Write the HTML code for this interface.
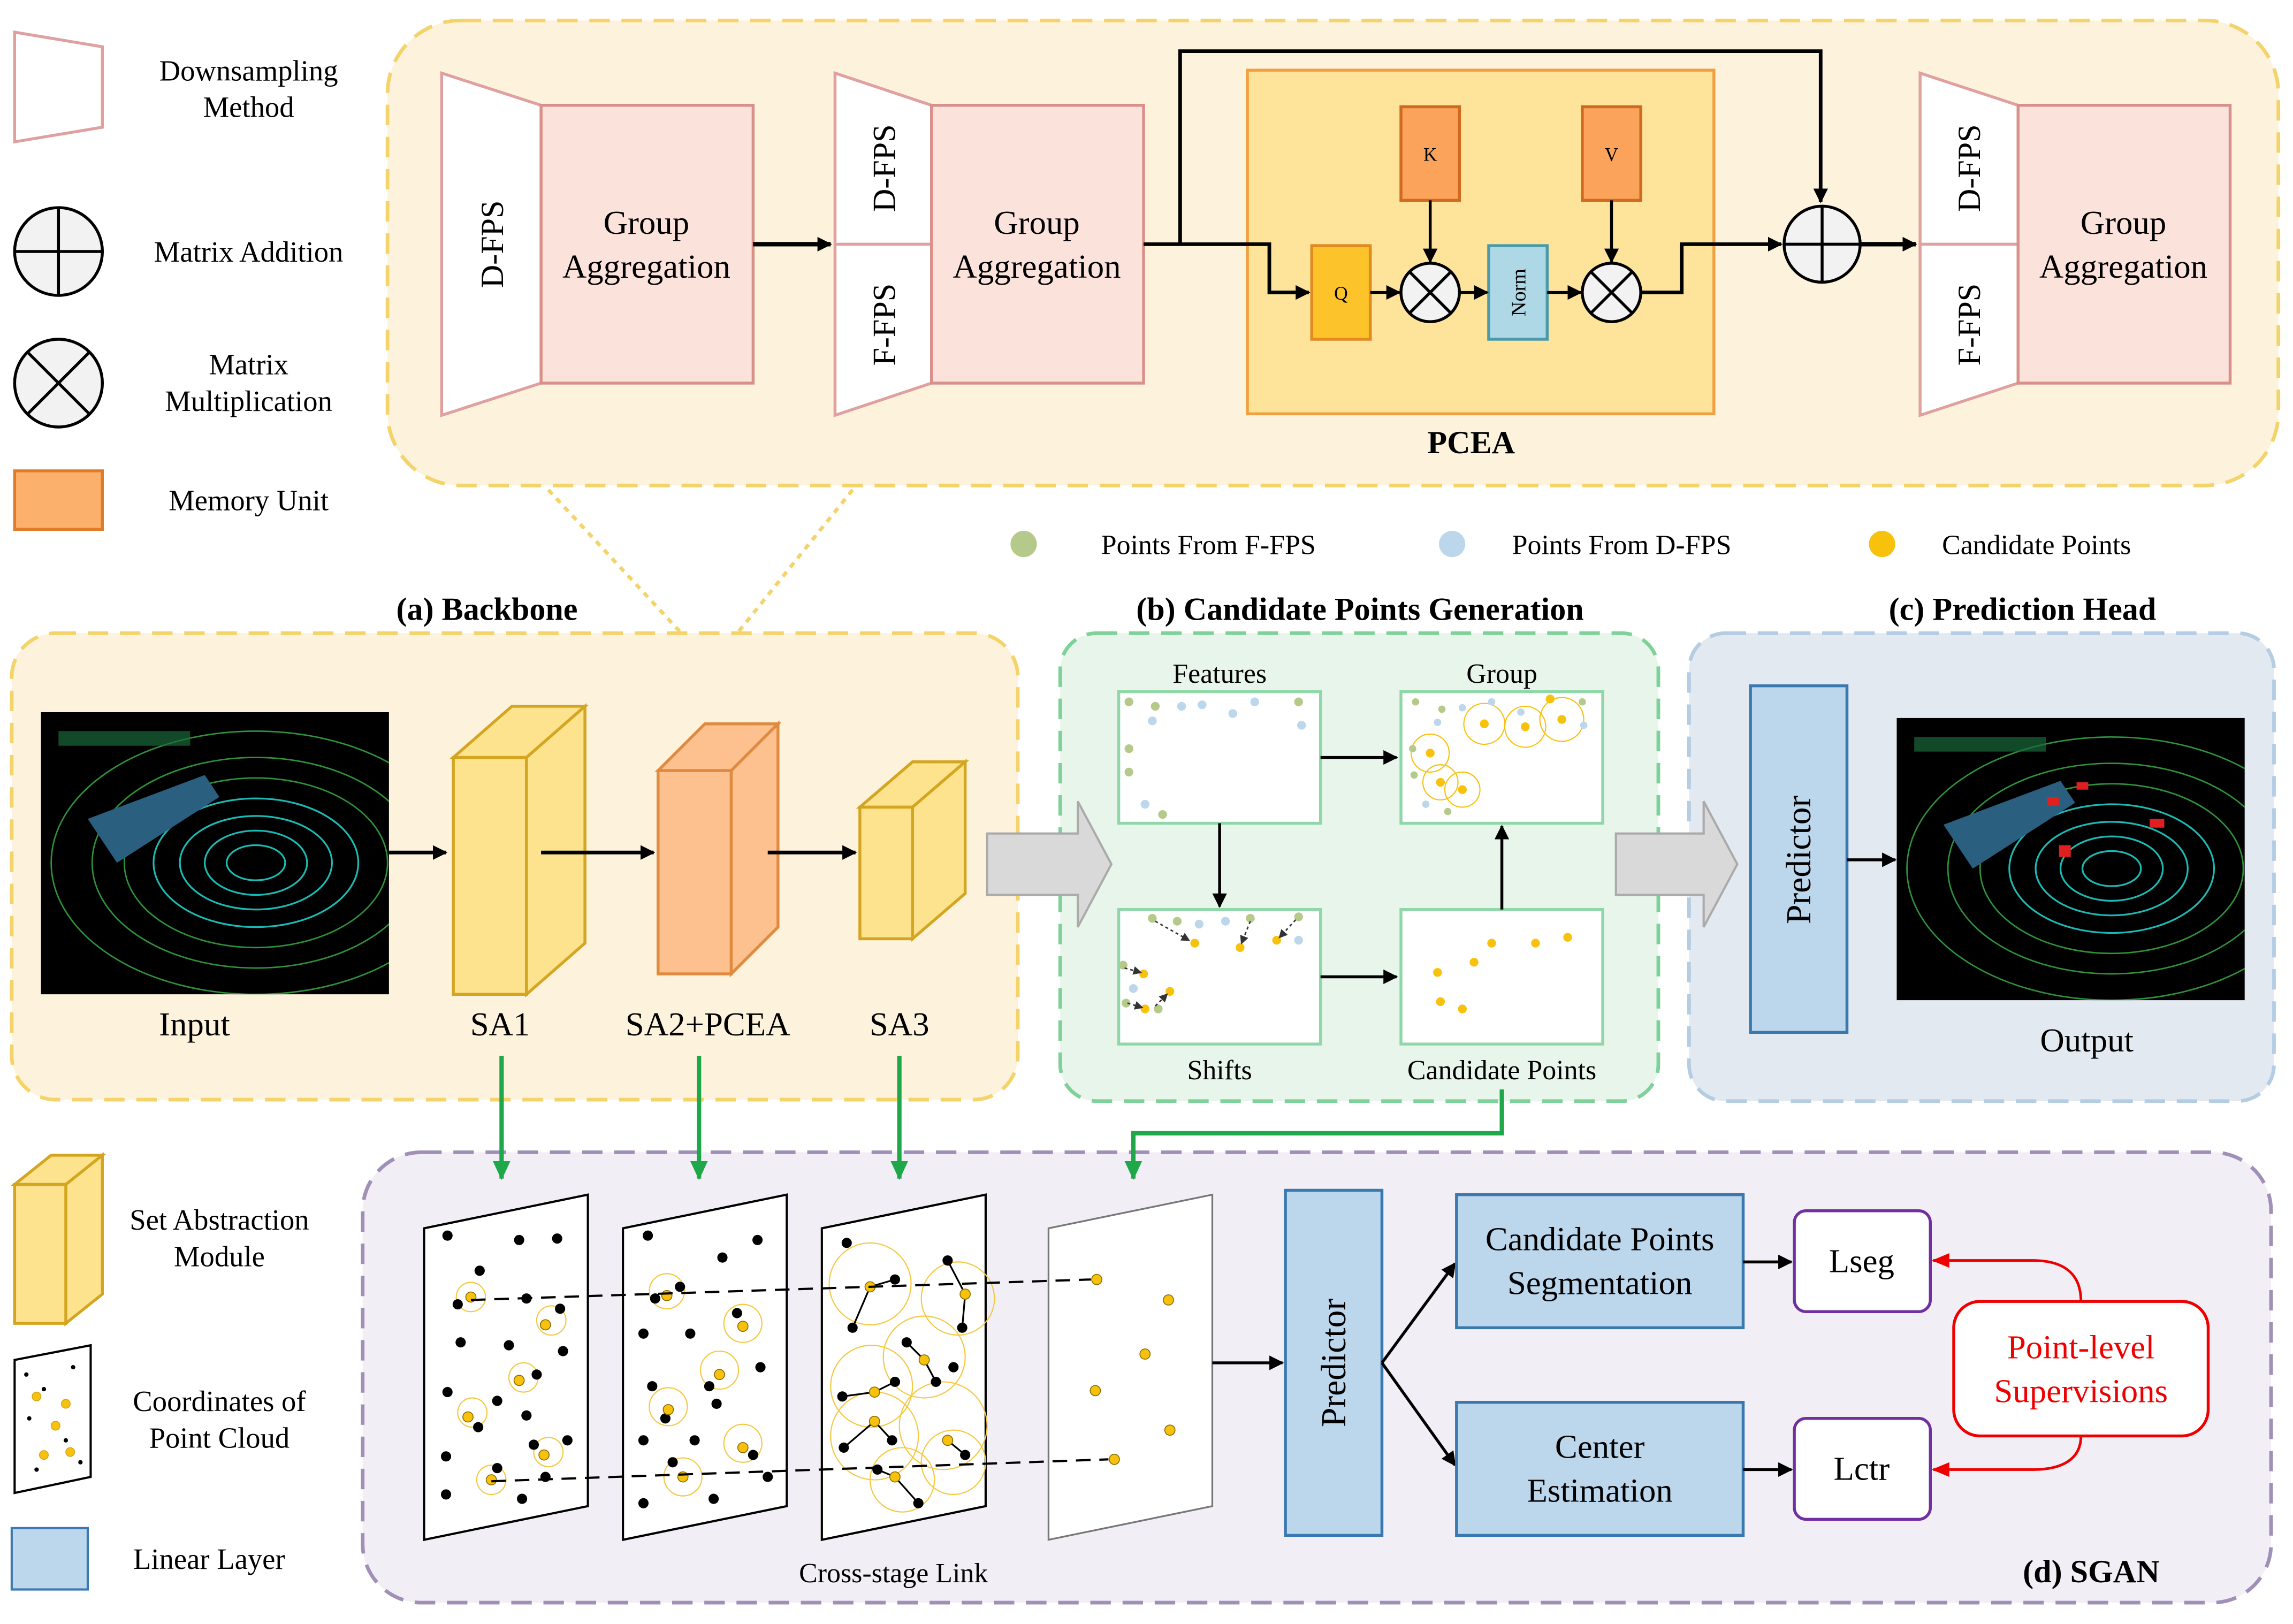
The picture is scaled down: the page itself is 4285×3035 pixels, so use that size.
<!DOCTYPE html>
<html><head><meta charset="utf-8"><style>
html,body{margin:0;padding:0;background:#fff;}
svg{display:block;}
text{font-family:"Liberation Serif",serif;fill:#000;}
</style></head><body>
<svg width="4285" height="3035" viewBox="0 0 1568 1110.6" preserveAspectRatio="none" xmlns="http://www.w3.org/2000/svg">
<defs>
<marker id="ah" markerWidth="10" markerHeight="10" refX="9" refY="5" orient="auto" markerUnits="userSpaceOnUse"><path d="M0,0 L10,5 L0,10 z" fill="#000"/></marker>
<marker id="ag" markerWidth="14" markerHeight="12" refX="12" refY="6" orient="auto" markerUnits="userSpaceOnUse"><path d="M0,0 L13,6 L0,12 z" fill="#1fa84a"/></marker>
<marker id="ar" markerWidth="12" markerHeight="10" refX="11" refY="5" orient="auto" markerUnits="userSpaceOnUse"><path d="M0,0 L12,5 L0,10 z" fill="#e00"/></marker>
<marker id="as" markerWidth="6" markerHeight="6" refX="5" refY="3" orient="auto" markerUnits="userSpaceOnUse"><path d="M0,0 L6,3 L0,6 z" fill="#333"/></marker>
<clipPath id="c1"><rect x="28" y="487" width="238" height="193"/></clipPath>
<clipPath id="c2"><rect x="1297" y="491" width="238" height="193"/></clipPath>
</defs>
<rect width="1568" height="1111" fill="#fff"/>

<!-- TOP PANEL -->
<rect x="265" y="14" width="1293" height="318" rx="50" fill="#fdf3dc" stroke="#f5d36b" stroke-width="2.5" stroke-dasharray="14,8"/>
<polygon points="10,22 70,32 70,87 10,97" fill="#fff" stroke="#e0a0a0" stroke-width="2"/>
<text x="170" y="55" font-size="20" text-anchor="middle">Downsampling</text>
<text x="170" y="80" font-size="20" text-anchor="middle">Method</text>
<circle cx="40" cy="172" r="30" fill="#f2f2f2" stroke="#000" stroke-width="2"/>
<line x1="10" y1="172" x2="70" y2="172" stroke="#000" stroke-width="2"/><line x1="40" y1="142" x2="40" y2="202" stroke="#000" stroke-width="2"/>
<text x="170" y="179" font-size="20" text-anchor="middle">Matrix Addition</text>
<circle cx="40" cy="262" r="30" fill="#f2f2f2" stroke="#000" stroke-width="2"/>
<line x1="19" y1="241" x2="61" y2="283" stroke="#000" stroke-width="2"/><line x1="61" y1="241" x2="19" y2="283" stroke="#000" stroke-width="2"/>
<text x="170" y="256" font-size="20" text-anchor="middle">Matrix</text>
<text x="170" y="281" font-size="20" text-anchor="middle">Multiplication</text>
<rect x="10" y="322" width="60" height="40" fill="#fbb06b" stroke="#e07b2a" stroke-width="2"/>
<text x="170" y="349" font-size="20" text-anchor="middle">Memory Unit</text>

<polygon points="302,50 370,72 370,262 302,284" fill="#fff" stroke="#e0a0a0" stroke-width="2"/>
<text transform="translate(344,167) rotate(-90)" font-size="22" text-anchor="middle">D-FPS</text>
<rect x="370" y="72" width="145" height="190" fill="#fbe3dc" stroke="#d9908a" stroke-width="2"/>
<text x="442" y="160" font-size="23" text-anchor="middle">Group</text>
<text x="442" y="190" font-size="23" text-anchor="middle">Aggregation</text>
<line x1="515" y1="167" x2="568" y2="167" stroke="#000" stroke-width="3" marker-end="url(#ah)"/>
<polygon points="571,50 637,72 637,262 571,284" fill="#fff" stroke="#e0a0a0" stroke-width="2"/>
<line x1="571" y1="167" x2="637" y2="167" stroke="#e0a0a0" stroke-width="2"/>
<text transform="translate(612,115) rotate(-90)" font-size="22" text-anchor="middle">D-FPS</text>
<text transform="translate(612,222) rotate(-90)" font-size="22" text-anchor="middle">F-FPS</text>
<rect x="637" y="72" width="145" height="190" fill="#fbe3dc" stroke="#d9908a" stroke-width="2"/>
<text x="709" y="160" font-size="23" text-anchor="middle">Group</text>
<text x="709" y="190" font-size="23" text-anchor="middle">Aggregation</text>
<rect x="853" y="48" width="319" height="235" fill="#fde49a" stroke="#f0a040" stroke-width="2"/>
<polyline points="782,167 868,167 868,200 895,200" fill="none" stroke="#000" stroke-width="2.5" marker-end="url(#ah)"/>
<polyline points="807,167 807,35 1245,35 1245,138" fill="none" stroke="#000" stroke-width="2.5" marker-end="url(#ah)"/>
<rect x="897" y="168" width="40" height="64" fill="#fcc42a" stroke="#e08a20" stroke-width="2"/>
<text x="917" y="205" font-size="13" text-anchor="middle">Q</text>
<rect x="958" y="73" width="40" height="64" fill="#fba35a" stroke="#d06a20" stroke-width="2"/>
<text x="978" y="110" font-size="13" text-anchor="middle">K</text>
<rect x="1082" y="73" width="40" height="64" fill="#fba35a" stroke="#d06a20" stroke-width="2"/>
<text x="1102" y="110" font-size="13" text-anchor="middle">V</text>
<rect x="1018" y="168" width="40" height="64" fill="#aed8e6" stroke="#4a9aaa" stroke-width="2"/>
<text transform="translate(1043,200) rotate(-90)" font-size="14" text-anchor="middle">Norm</text>
<circle cx="978" cy="200" r="20" fill="#f2f2f2" stroke="#000" stroke-width="2"/>
<line x1="964" y1="186" x2="992" y2="214" stroke="#000" stroke-width="2"/><line x1="992" y1="186" x2="964" y2="214" stroke="#000" stroke-width="2"/>
<circle cx="1102" cy="200" r="20" fill="#f2f2f2" stroke="#000" stroke-width="2"/>
<line x1="1088" y1="186" x2="1116" y2="214" stroke="#000" stroke-width="2"/><line x1="1116" y1="186" x2="1088" y2="214" stroke="#000" stroke-width="2"/>
<line x1="937" y1="200" x2="957" y2="200" stroke="#000" stroke-width="2" marker-end="url(#ah)"/>
<line x1="978" y1="137" x2="978" y2="179" stroke="#000" stroke-width="2" marker-end="url(#ah)"/>
<line x1="998" y1="200" x2="1017" y2="200" stroke="#000" stroke-width="2" marker-end="url(#ah)"/>
<line x1="1058" y1="200" x2="1081" y2="200" stroke="#000" stroke-width="2" marker-end="url(#ah)"/>
<line x1="1102" y1="137" x2="1102" y2="179" stroke="#000" stroke-width="2" marker-end="url(#ah)"/>
<polyline points="1122,200 1150,200 1150,167 1218,167" fill="none" stroke="#000" stroke-width="2.5" marker-end="url(#ah)"/>
<circle cx="1246" cy="167" r="26" fill="#f2f2f2" stroke="#000" stroke-width="2"/>
<line x1="1220" y1="167" x2="1272" y2="167" stroke="#000" stroke-width="2"/><line x1="1246" y1="141" x2="1246" y2="193" stroke="#000" stroke-width="2"/>
<line x1="1272" y1="167" x2="1310" y2="167" stroke="#000" stroke-width="3" marker-end="url(#ah)"/>
<text x="1006" y="310" font-size="22" font-weight="bold" text-anchor="middle">PCEA</text>
<polygon points="1313,50 1380,72 1380,262 1313,284" fill="#fff" stroke="#e0a0a0" stroke-width="2"/>
<line x1="1313" y1="167" x2="1380" y2="167" stroke="#e0a0a0" stroke-width="2"/>
<text transform="translate(1354,115) rotate(-90)" font-size="22" text-anchor="middle">D-FPS</text>
<text transform="translate(1354,222) rotate(-90)" font-size="22" text-anchor="middle">F-FPS</text>
<rect x="1380" y="72" width="145" height="190" fill="#fbe3dc" stroke="#d9908a" stroke-width="2"/>
<text x="1452" y="160" font-size="23" text-anchor="middle">Group</text>
<text x="1452" y="190" font-size="23" text-anchor="middle">Aggregation</text>

<line x1="375" y1="335" x2="465" y2="432" stroke="#f5d36b" stroke-width="2.5" stroke-dasharray="4,4"/>
<line x1="583" y1="335" x2="505" y2="432" stroke="#f5d36b" stroke-width="2.5" stroke-dasharray="4,4"/>

<circle cx="700" cy="372" r="9" fill="#b5c98a"/><text x="753" y="379" font-size="19">Points From F-FPS</text>
<circle cx="993" cy="372" r="9" fill="#bcd6ec"/><text x="1034" y="379" font-size="19">Points From D-FPS</text>
<circle cx="1287" cy="372" r="9" fill="#f8c10c"/><text x="1328" y="379" font-size="19">Candidate Points</text>

<text x="333" y="424" font-size="22" font-weight="bold" text-anchor="middle">(a) Backbone</text>
<text x="930" y="424" font-size="22" font-weight="bold" text-anchor="middle">(b) Candidate Points Generation</text>
<text x="1383" y="424" font-size="22" font-weight="bold" text-anchor="middle">(c) Prediction Head</text>

<!-- PANEL A -->
<rect x="8" y="433" width="688" height="319" rx="30" fill="#fdf3dc" stroke="#f5d36b" stroke-width="2.5" stroke-dasharray="14,8"/>
<g clip-path="url(#c1)">
<rect x="28" y="487" width="238" height="193" fill="#000"/>
<g fill="none" stroke="#1ecfc8" stroke-width="1.2" opacity="0.9">
<ellipse cx="175" cy="590" rx="20" ry="12"/><ellipse cx="175" cy="590" rx="35" ry="22"/><ellipse cx="175" cy="590" rx="52" ry="32"/><ellipse cx="175" cy="590" rx="70" ry="44"/>
</g>
<g fill="none" stroke="#3bb84a" stroke-width="1" opacity="0.8">
<ellipse cx="175" cy="590" rx="90" ry="58"/><ellipse cx="175" cy="590" rx="112" ry="72"/><ellipse cx="175" cy="590" rx="140" ry="90"/>
</g>
<polygon points="60,560 140,530 150,545 80,590" fill="#2a5f80"/>
<rect x="40" y="500" width="90" height="10" fill="#1a6a3a" opacity="0.7"/>
</g>
<text x="133" y="708" font-size="23" text-anchor="middle">Input</text>
<line x1="266" y1="583" x2="305" y2="583" stroke="#000" stroke-width="2.5" marker-end="url(#ah)"/>
<polygon points="310,518 350,483 400,483 360,518" fill="#fde38e" stroke="#d4a520" stroke-width="2"/>
<polygon points="360,518 400,483 400,645 360,680" fill="#fde38e" stroke="#d4a520" stroke-width="2"/>
<rect x="310" y="518" width="50" height="162" fill="#fde38e" stroke="#d4a520" stroke-width="2"/>
<text x="342" y="708" font-size="23" text-anchor="middle">SA1</text>
<line x1="370" y1="583" x2="447" y2="583" stroke="#000" stroke-width="2.5" marker-end="url(#ah)"/>
<polygon points="450,527 482,495 532,495 500,527" fill="#fdc08f" stroke="#e08a40" stroke-width="2"/>
<polygon points="500,527 532,495 532,634 500,666" fill="#fdc08f" stroke="#e08a40" stroke-width="2"/>
<rect x="450" y="527" width="50" height="139" fill="#fdc08f" stroke="#e08a40" stroke-width="2"/>
<text x="484" y="708" font-size="23" text-anchor="middle">SA2+PCEA</text>
<line x1="525" y1="583" x2="585" y2="583" stroke="#000" stroke-width="2.5" marker-end="url(#ah)"/>
<polygon points="588,552 624,521 660,521 624,552" fill="#fde38e" stroke="#d4a520" stroke-width="2"/>
<polygon points="624,552 660,521 660,611 624,642" fill="#fde38e" stroke="#d4a520" stroke-width="2"/>
<rect x="588" y="552" width="36" height="90" fill="#fde38e" stroke="#d4a520" stroke-width="2"/>
<text x="615" y="708" font-size="23" text-anchor="middle">SA3</text>

<!-- PANEL B -->
<rect x="725" y="433" width="409" height="320" rx="25" fill="#e8f5ea" stroke="#7fd19a" stroke-width="2.5" stroke-dasharray="14,8"/>
<g fill="#fff" stroke="#8fd6a8" stroke-width="2">
<rect x="765" y="473" width="138" height="90"/><rect x="958" y="473" width="138" height="90"/>
<rect x="765" y="622" width="138" height="92"/><rect x="958" y="622" width="138" height="92"/>
</g>
<text x="834" y="467" font-size="19" text-anchor="middle">Features</text>
<text x="1027" y="467" font-size="19" text-anchor="middle">Group</text>
<text x="834" y="738" font-size="19" text-anchor="middle">Shifts</text>
<text x="1027" y="738" font-size="19" text-anchor="middle">Candidate Points</text>
<g fill="#b5c98a"><circle cx="772" cy="480" r="3"/><circle cx="790" cy="483" r="3"/><circle cx="772" cy="512" r="3"/><circle cx="772" cy="528" r="3"/><circle cx="795" cy="557" r="3"/><circle cx="888" cy="480" r="3"/></g>
<g fill="#bcd6ec"><circle cx="788" cy="493" r="3"/><circle cx="808" cy="483" r="3"/><circle cx="822" cy="482" r="3"/><circle cx="843" cy="488" r="3"/><circle cx="858" cy="480" r="3"/><circle cx="890" cy="496" r="3"/><circle cx="783" cy="550" r="3"/></g>
<g fill="none" stroke="#f8c10c" stroke-width="0.8"><circle cx="978" cy="515" r="13"/><circle cx="1000" cy="540" r="12"/><circle cx="1015" cy="495" r="14"/><circle cx="1043" cy="497" r="14"/><circle cx="1068" cy="492" r="15"/><circle cx="985" cy="535" r="12"/></g>
<g fill="#b5c98a"><circle cx="968" cy="480" r="2.5"/><circle cx="986" cy="485" r="2.5"/><circle cx="966" cy="512" r="2.5"/><circle cx="967" cy="530" r="2.5"/><circle cx="990" cy="555" r="2.5"/><circle cx="1082" cy="480" r="2.5"/></g>
<g fill="#bcd6ec"><circle cx="983" cy="494" r="2.5"/><circle cx="1000" cy="484" r="2.5"/><circle cx="1020" cy="480" r="2.5"/><circle cx="1040" cy="487" r="2.5"/><circle cx="1083" cy="496" r="2.5"/><circle cx="975" cy="550" r="2.5"/></g>
<g fill="#f8c10c"><circle cx="978" cy="515" r="3"/><circle cx="1000" cy="540" r="3"/><circle cx="1015" cy="495" r="3"/><circle cx="1043" cy="497" r="3"/><circle cx="1068" cy="492" r="3"/><circle cx="985" cy="535" r="3"/><circle cx="1060" cy="478" r="3"/></g>
<g fill="#b5c98a"><circle cx="788" cy="628" r="3"/><circle cx="805" cy="630" r="3"/><circle cx="768" cy="660" r="3"/><circle cx="770" cy="686" r="3"/><circle cx="792" cy="690" r="3"/><circle cx="855" cy="628" r="3"/><circle cx="888" cy="627" r="3"/></g>
<g fill="#bcd6ec"><circle cx="820" cy="632" r="3"/><circle cx="838" cy="630" r="3"/><circle cx="888" cy="643" r="3"/><circle cx="775" cy="676" r="3"/></g>
<g fill="#f8c10c"><circle cx="817" cy="645" r="3"/><circle cx="848" cy="648" r="3"/><circle cx="873" cy="643" r="3"/><circle cx="782" cy="666" r="3"/><circle cx="783" cy="690" r="3"/><circle cx="800" cy="678" r="3"/></g>
<g stroke="#333" stroke-width="1" stroke-dasharray="2,2" fill="none" marker-end="url(#as)"><line x1="790" y1="630" x2="813" y2="643"/><line x1="855" y1="630" x2="849" y2="645"/><line x1="886" y1="629" x2="875" y2="641"/><line x1="769" y1="662" x2="780" y2="665"/><line x1="771" y1="686" x2="781" y2="689"/><line x1="790" y1="688" x2="798" y2="680"/></g>
<g fill="#f8c10c"><circle cx="1020" cy="645" r="3"/><circle cx="1050" cy="645" r="3"/><circle cx="1072" cy="641" r="3"/><circle cx="1008" cy="658" r="3"/><circle cx="983" cy="665" r="3"/><circle cx="985" cy="685" r="3"/><circle cx="1000" cy="690" r="3"/></g>
<line x1="903" y1="518" x2="955" y2="518" stroke="#000" stroke-width="2" marker-end="url(#ah)"/>
<line x1="834" y1="563" x2="834" y2="620" stroke="#000" stroke-width="2" marker-end="url(#ah)"/>
<line x1="903" y1="668" x2="955" y2="668" stroke="#000" stroke-width="2" marker-end="url(#ah)"/>
<line x1="1027" y1="622" x2="1027" y2="565" stroke="#000" stroke-width="2" marker-end="url(#ah)"/>

<!-- PANEL C -->
<rect x="1155" y="433" width="400" height="320" rx="25" fill="#e3e9f0" stroke="#b4cde3" stroke-width="2.5" stroke-dasharray="14,8"/>
<rect x="1197" y="469" width="66" height="237" fill="#bcd6ec" stroke="#3a78b0" stroke-width="2"/>
<text transform="translate(1238,588) rotate(-90)" font-size="24" text-anchor="middle">Predictor</text>
<line x1="1263" y1="588" x2="1296" y2="588" stroke="#000" stroke-width="2" marker-end="url(#ah)"/>
<g clip-path="url(#c2)">
<rect x="1297" y="491" width="238" height="193" fill="#000"/>
<g fill="none" stroke="#1ecfc8" stroke-width="1.2" opacity="0.9">
<ellipse cx="1444" cy="594" rx="20" ry="12"/><ellipse cx="1444" cy="594" rx="35" ry="22"/><ellipse cx="1444" cy="594" rx="52" ry="32"/><ellipse cx="1444" cy="594" rx="70" ry="44"/>
</g>
<g fill="none" stroke="#3bb84a" stroke-width="1" opacity="0.8">
<ellipse cx="1444" cy="594" rx="90" ry="58"/><ellipse cx="1444" cy="594" rx="112" ry="72"/><ellipse cx="1444" cy="594" rx="140" ry="90"/>
</g>
<polygon points="1329,564 1409,534 1419,549 1349,594" fill="#2a5f80"/>
<rect x="1309" y="504" width="90" height="10" fill="#1a6a3a" opacity="0.7"/>
<g fill="#e02020"><rect x="1400" y="545" width="8" height="6"/><rect x="1470" y="560" width="10" height="6"/><rect x="1408" y="578" width="8" height="8"/><rect x="1420" y="535" width="8" height="5"/></g>
</g>
<text x="1427" y="719" font-size="23" text-anchor="middle">Output</text>

<!-- gray arrows (on top of panels) -->
<polygon points="675,570 737,570 737,548 760,591 737,634 737,612 675,612" fill="#d9d9d9" stroke="#aaa" stroke-width="1.5"/>
<polygon points="1105,570 1165,570 1165,548 1188,591 1165,634 1165,612 1105,612" fill="#d9d9d9" stroke="#aaa" stroke-width="1.5"/>

<!-- PANEL D -->
<rect x="248" y="788" width="1305" height="308" rx="40" fill="#f2eef5" stroke="#a090b8" stroke-width="2.5" stroke-dasharray="14,8"/>
<polygon points="10,810 35,790 70,790 45,810" fill="#fde38e" stroke="#d4a520" stroke-width="2"/>
<polygon points="45,810 70,790 70,885 45,905" fill="#fde38e" stroke="#d4a520" stroke-width="2"/>
<rect x="10" y="810" width="35" height="95" fill="#fde38e" stroke="#d4a520" stroke-width="2"/>
<text x="150" y="841" font-size="20" text-anchor="middle">Set Abstraction</text>
<text x="150" y="866" font-size="20" text-anchor="middle">Module</text>
<polygon points="10,930 62,920 62,1010 10,1021" fill="#fff" stroke="#000" stroke-width="1.5"/>
<g fill="#000"><circle cx="18" cy="940" r="1.5"/><circle cx="30" cy="950" r="1.5"/><circle cx="50" cy="935" r="1.5"/><circle cx="20" cy="970" r="1.5"/><circle cx="45" cy="985" r="1.5"/><circle cx="25" cy="1005" r="1.5"/><circle cx="55" cy="1000" r="1.5"/></g>
<g fill="#f8c10c" stroke="#d4a520" stroke-width="0.6"><circle cx="25" cy="955" r="3"/><circle cx="45" cy="960" r="3"/><circle cx="38" cy="975" r="3"/><circle cx="30" cy="995" r="3"/><circle cx="48" cy="993" r="3"/></g>
<text x="150" y="965" font-size="20" text-anchor="middle">Coordinates of</text>
<text x="150" y="990" font-size="20" text-anchor="middle">Point Cloud</text>
<rect x="8" y="1045" width="52" height="42" fill="#bcd6ec" stroke="#3a78b0" stroke-width="1.5"/>
<text x="143" y="1073" font-size="20" text-anchor="middle">Linear Layer</text>

<g fill="#fff" stroke="#000" stroke-width="1.5">
<polygon points="290,840 402,817 402,1030 290,1053"/>
<polygon points="426,840 538,817 538,1030 426,1053"/>
<polygon points="562,840 674,817 674,1030 562,1053"/>
</g>
<polygon points="717,840 829,817 829,1030 717,1053" fill="#fff" stroke="#777" stroke-width="1.2"/>
<g fill="none" stroke="#f5c842" stroke-width="0.8"><circle cx="322" cy="887" r="10"/><circle cx="377" cy="903" r="10"/><circle cx="358" cy="942" r="10"/><circle cx="323" cy="966" r="10"/><circle cx="375" cy="993" r="10"/><circle cx="336" cy="1012" r="10"/></g>
<g fill="#000"><circle cx="306" cy="845" r="3.5"/><circle cx="355" cy="848" r="3.5"/><circle cx="381" cy="847" r="3.5"/><circle cx="328" cy="869" r="3.5"/><circle cx="313" cy="892" r="3.5"/><circle cx="360" cy="888" r="3.5"/><circle cx="383" cy="895" r="3.5"/><circle cx="315" cy="918" r="3.5"/><circle cx="348" cy="920" r="3.5"/><circle cx="385" cy="924" r="3.5"/><circle cx="367" cy="940" r="3.5"/><circle cx="306" cy="952" r="3.5"/><circle cx="340" cy="958" r="3.5"/><circle cx="327" cy="976" r="3.5"/><circle cx="360" cy="968" r="3.5"/><circle cx="388" cy="985" r="3.5"/><circle cx="365" cy="988" r="3.5"/><circle cx="305" cy="996" r="3.5"/><circle cx="340" cy="1004" r="3.5"/><circle cx="357" cy="1025" r="3.5"/><circle cx="305" cy="1022" r="3.5"/><circle cx="373" cy="1010" r="3.5"/></g>
<g fill="#f8c10c" stroke="#8a6a00" stroke-width="0.6"><circle cx="322" cy="887" r="3.5"/><circle cx="373" cy="906" r="3.5"/><circle cx="355" cy="944" r="3.5"/><circle cx="320" cy="969" r="3.5"/><circle cx="372" cy="995" r="3.5"/><circle cx="336" cy="1012" r="3.5"/></g>
<g fill="none" stroke="#f5c842" stroke-width="0.8"><circle cx="456" cy="883" r="12"/><circle cx="508" cy="905" r="13"/><circle cx="492" cy="937" r="13"/><circle cx="457" cy="962" r="13"/><circle cx="508" cy="987" r="13"/><circle cx="467" cy="1010" r="13"/></g>
<g fill="#000"><circle cx="443" cy="845" r="3.5"/><circle cx="494" cy="860" r="3.5"/><circle cx="518" cy="848" r="3.5"/><circle cx="448" cy="888" r="3.5"/><circle cx="465" cy="880" r="3.5"/><circle cx="504" cy="898" r="3.5"/><circle cx="440" cy="912" r="3.5"/><circle cx="472" cy="912" r="3.5"/><circle cx="485" cy="948" r="3.5"/><circle cx="520" cy="935" r="3.5"/><circle cx="446" cy="948" r="3.5"/><circle cx="455" cy="970" r="3.5"/><circle cx="490" cy="960" r="3.5"/><circle cx="440" cy="985" r="3.5"/><circle cx="475" cy="985" r="3.5"/><circle cx="515" cy="995" r="3.5"/><circle cx="460" cy="1000" r="3.5"/><circle cx="488" cy="1025" r="3.5"/><circle cx="440" cy="1028" r="3.5"/><circle cx="525" cy="1010" r="3.5"/></g>
<g fill="#f8c10c" stroke="#8a6a00" stroke-width="0.6"><circle cx="456" cy="886" r="3.5"/><circle cx="508" cy="907" r="3.5"/><circle cx="492" cy="940" r="3.5"/><circle cx="457" cy="964" r="3.5"/><circle cx="508" cy="990" r="3.5"/><circle cx="467" cy="1010" r="3.5"/></g>
<g fill="none" stroke="#f5c842" stroke-width="0.8"><circle cx="595" cy="878" r="28"/><circle cx="655" cy="888" r="25"/><circle cx="632" cy="928" r="28"/><circle cx="596" cy="948" r="28"/><circle cx="598" cy="982" r="30"/><circle cx="645" cy="975" r="30"/><circle cx="652" cy="1000" r="22"/><circle cx="617" cy="1012" r="22"/></g>
<g fill="#000"><circle cx="579" cy="850" r="3.5"/><circle cx="612" cy="875" r="3.5"/><circle cx="648" cy="862" r="3.5"/><circle cx="583" cy="908" r="3.5"/><circle cx="658" cy="908" r="3.5"/><circle cx="620" cy="918" r="3.5"/><circle cx="640" cy="945" r="3.5"/><circle cx="652" cy="935" r="3.5"/><circle cx="576" cy="955" r="3.5"/><circle cx="612" cy="945" r="3.5"/><circle cx="577" cy="990" r="3.5"/><circle cx="610" cy="985" r="3.5"/><circle cx="660" cy="995" r="3.5"/><circle cx="628" cy="1028" r="3.5"/><circle cx="600" cy="1005" r="3.5"/></g>
<g stroke="#000" stroke-width="1.2"><line x1="595" y1="880" x2="612" y2="875"/><line x1="595" y1="880" x2="583" y2="908"/><line x1="660" y1="885" x2="648" y2="862"/><line x1="660" y1="885" x2="658" y2="908"/><line x1="632" y1="930" x2="620" y2="918"/><line x1="632" y1="930" x2="640" y2="945"/><line x1="598" y1="952" x2="612" y2="945"/><line x1="598" y1="952" x2="576" y2="955"/><line x1="598" y1="972" x2="610" y2="985"/><line x1="598" y1="972" x2="577" y2="990"/><line x1="648" y1="985" x2="660" y2="995"/><line x1="612" y1="1010" x2="628" y2="1028"/><line x1="612" y1="1010" x2="600" y2="1005"/></g>
<g fill="#f8c10c" stroke="#8a6a00" stroke-width="0.6"><circle cx="595" cy="880" r="3.5"/><circle cx="660" cy="885" r="3.5"/><circle cx="632" cy="930" r="3.5"/><circle cx="598" cy="952" r="3.5"/><circle cx="598" cy="972" r="3.5"/><circle cx="648" cy="985" r="3.5"/><circle cx="612" cy="1010" r="3.5"/></g>
<g fill="#f8c10c" stroke="#8a6a00" stroke-width="0.6"><circle cx="750" cy="875" r="3.5"/><circle cx="799" cy="889" r="3.5"/><circle cx="783" cy="926" r="3.5"/><circle cx="749" cy="951" r="3.5"/><circle cx="800" cy="978" r="3.5"/><circle cx="762" cy="998" r="3.5"/></g>
<line x1="322" y1="889" x2="746" y2="875" stroke="#000" stroke-width="1.5" stroke-dasharray="10,6"/>
<line x1="336" y1="1013" x2="758" y2="998" stroke="#000" stroke-width="1.5" stroke-dasharray="10,6"/>
<text x="611" y="1082" font-size="19" text-anchor="middle">Cross-stage Link</text>

<line x1="829" y1="932" x2="877" y2="932" stroke="#000" stroke-width="2" marker-end="url(#ah)"/>
<rect x="879" y="814" width="66" height="236" fill="#bcd6ec" stroke="#3a78b0" stroke-width="2"/>
<text transform="translate(920,932) rotate(-90)" font-size="24" text-anchor="middle">Predictor</text>
<line x1="945" y1="932" x2="995" y2="864" stroke="#000" stroke-width="2" marker-end="url(#ah)"/>
<line x1="945" y1="932" x2="995" y2="1002" stroke="#000" stroke-width="2" marker-end="url(#ah)"/>
<rect x="996" y="817" width="196" height="91" fill="#bcd6ec" stroke="#3a78b0" stroke-width="2"/>
<text x="1094" y="855" font-size="23" text-anchor="middle">Candidate Points</text>
<text x="1094" y="885" font-size="23" text-anchor="middle">Segmentation</text>
<rect x="996" y="959" width="196" height="91" fill="#bcd6ec" stroke="#3a78b0" stroke-width="2"/>
<text x="1094" y="997" font-size="23" text-anchor="middle">Center</text>
<text x="1094" y="1027" font-size="23" text-anchor="middle">Estimation</text>
<line x1="1192" y1="863" x2="1225" y2="863" stroke="#000" stroke-width="2" marker-end="url(#ah)"/>
<line x1="1192" y1="1005" x2="1225" y2="1005" stroke="#000" stroke-width="2" marker-end="url(#ah)"/>
<rect x="1227" y="828" width="93" height="69" rx="8" fill="#fff" stroke="#7030a0" stroke-width="2"/>
<text x="1273" y="870" font-size="23" text-anchor="middle">Lseg</text>
<rect x="1227" y="970" width="93" height="69" rx="8" fill="#fff" stroke="#7030a0" stroke-width="2"/>
<text x="1273" y="1012" font-size="23" text-anchor="middle">Lctr</text>
<rect x="1336" y="890" width="174" height="92" rx="18" fill="#fff" stroke="#e00" stroke-width="2"/>
<text x="1423" y="929" font-size="23" text-anchor="middle" style="fill:#e00">Point-level</text>
<text x="1423" y="959" font-size="23" text-anchor="middle" style="fill:#e00">Supervisions</text>
<path d="M1423,890 C1423,870 1410,862 1390,862 L1322,862" fill="none" stroke="#e00" stroke-width="1.8" marker-end="url(#ar)"/>
<path d="M1423,982 C1423,998 1410,1005 1390,1005 L1322,1005" fill="none" stroke="#e00" stroke-width="1.8" marker-end="url(#ar)"/>
<text x="1430" y="1082" font-size="22" font-weight="bold" text-anchor="middle">(d) SGAN</text>

<!-- green arrows (on top) -->
<g stroke="#1fa84a" stroke-width="3" fill="none">
<line x1="343" y1="722" x2="343" y2="806" marker-end="url(#ag)"/>
<line x1="478" y1="722" x2="478" y2="806" marker-end="url(#ag)"/>
<line x1="615" y1="722" x2="615" y2="806" marker-end="url(#ag)"/>
<polyline points="1027,745 1027,775 775,775 775,806" marker-end="url(#ag)"/>
</g>
</svg>
</body></html>
